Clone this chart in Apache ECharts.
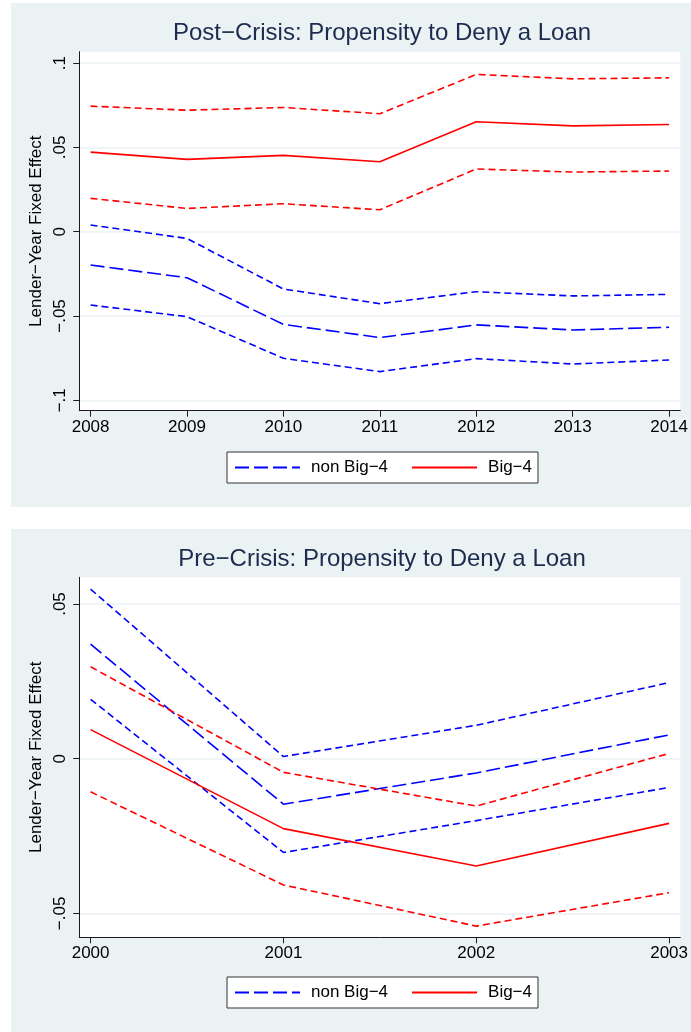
<!DOCTYPE html>
<html>
<head>
<meta charset="utf-8">
<title>Lender-Year Fixed Effects: Propensity to Deny a Loan</title>
<script src="https://cdn.jsdelivr.net/npm/echarts@6/dist/echarts.min.js"></script>
<style>
  html, body { margin: 0; padding: 0; background: #ffffff; }
  #chart { width: 691px; height: 1032px; }
</style>
</head>
<body>
<div id="chart"></div>
<script>
// ---- Post-crisis panel (2008-2014) ----
const postYears = [2008, 2009, 2010, 2011, 2012, 2013, 2014];
const postBig4 = [0.0472, 0.0429, 0.0453, 0.0415, 0.0652, 0.0628, 0.0636];
const postBig4Hi = [0.0745, 0.0721, 0.0737, 0.0700, 0.0933, 0.0907, 0.0913];
const postBig4Lo = [0.0198, 0.0138, 0.0166, 0.0130, 0.0372, 0.0354, 0.0360];
const postNon = [-0.0198, -0.0273, -0.0550, -0.0628, -0.0553, -0.0583, -0.0567];
const postNonHi = [0.0040, -0.0040, -0.0340, -0.0427, -0.0356, -0.0381, -0.0372];
const postNonLo = [-0.0435, -0.0504, -0.0751, -0.0830, -0.0753, -0.0785, -0.0761];
const postYTicks = [-0.1, -0.05, 0, 0.05, 0.1];

// ---- Pre-crisis panel (2000-2003) ----
const preYears = [2000, 2001, 2002, 2003];
const preNonHi = [0.0548, 0.0007, 0.0108, 0.0246];
const preNon = [0.0370, -0.0147, -0.0046, 0.0077];
const preNonLo = [0.0192, -0.0303, -0.0200, -0.0093];
const preBig4Hi = [0.0297, -0.0044, -0.0153, 0.0017];
const preBig4 = [0.0094, -0.0226, -0.0347, -0.0209];
const preBig4Lo = [-0.0107, -0.0408, -0.0541, -0.0433];
const preYTicks = [-0.05, 0, 0.05];

const titles = ['Post\u2212Crisis: Propensity to Deny a Loan', 'Pre\u2212Crisis: Propensity to Deny a Loan'];
const yTitle = 'Lender\u2212Year Fixed Effect';
const NON = 'non Big\u22124';
const BIG = 'Big\u22124';

const FONT = '"Liberation Sans", Arial, Helvetica, sans-serif';
const BLUE = '#0000ff';
const RED = '#ff0000';
const PANEL_BG = '#eaf2f3';
const AXIS = '#1a1a1a';

function pairs(xs, ys) { return xs.map((x, i) => [x, ys[i]]); }

// Stata-style numbers: no leading zero, true minus sign
function stataNum(v) {
  if (Math.abs(v) < 1e-12) return '0';
  const s = String(Math.abs(+v.toFixed(4))).replace(/^0/, '');
  return (v < 0 ? '\u2212' : '') + s;
}

function line(name, xs, ys, color, dash, idx) {
  return {
    type: 'line', name: name, data: pairs(xs, ys),
    xAxisIndex: idx, yAxisIndex: idx,
    symbol: 'none', showSymbol: false, clip: false,
    lineStyle: { color: color, width: 1.6, type: dash },
    itemStyle: { color: color },
    z: 3
  };
}

const MAIN_DASH = [14, 5];
const CI_DASH = [7, 4];

function xAxis(idx, min, max, years) {
  return {
    type: 'value', gridIndex: idx, min: min, max: max,
    axisLine: { show: true, onZero: false, lineStyle: { color: AXIS, width: 1 } },
    axisTick: { show: true, length: 6, customValues: years, lineStyle: { color: AXIS, width: 1 } },
    axisLabel: { customValues: years, margin: 8, color: '#000', fontFamily: FONT, fontSize: 17,
                 formatter: v => String(Math.round(v)) },
    splitLine: { show: false }
  };
}

function yAxis(idx, min, max, ticks) {
  return {
    type: 'value', gridIndex: idx, min: min, max: max,
    name: yTitle, nameLocation: 'middle', nameRotate: 90, nameGap: 34,
    nameTextStyle: { color: '#000', fontFamily: FONT, fontSize: 17 },
    axisLine: { show: true, onZero: false, lineStyle: { color: AXIS, width: 1 } },
    axisTick: { show: true, length: 6, customValues: ticks, lineStyle: { color: AXIS, width: 1 } },
    axisLabel: { customValues: ticks, rotate: 90, margin: 10, color: '#000', fontFamily: FONT, fontSize: 17,
                 formatter: v => stataNum(v) },
    splitLine: { show: true, lineStyle: { color: PANEL_BG, width: 1.5 } }
  };
}

function legend(top) {
  return {
    data: [NON, BIG], left: 227, top: top, orient: 'horizontal',
    itemWidth: 65, itemHeight: 14, itemGap: 23,
    backgroundColor: '#ffffff', borderColor: '#333333', borderWidth: 1,
    padding: [7, 6, 7, 7], borderRadius: 0,
    itemStyle: { opacity: 0, borderWidth: 0 },
    textStyle: { color: '#000', fontFamily: FONT, fontSize: 17, padding: [0, 0, 0, 6] },
    selectedMode: false
  };
}

const chart = echarts.init(document.getElementById('chart'), null, { renderer: 'canvas' });

chart.setOption({
  animation: false,
  backgroundColor: '#ffffff',
  graphic: [
    { type: 'rect', z: -10, silent: true, shape: { x: 11, y: 3, width: 680, height: 504 }, style: { fill: PANEL_BG } },
    { type: 'rect', z: -10, silent: true, shape: { x: 11, y: 529, width: 680, height: 503 }, style: { fill: PANEL_BG } },
    { type: 'text', z: 10, silent: true, x: 382, y: 33,
      style: { text: titles[0], textAlign: 'center', textVerticalAlign: 'middle', fill: '#1c2b4e', font: '24px ' + FONT } },
    { type: 'text', z: 10, silent: true, x: 382, y: 559,
      style: { text: titles[1], textAlign: 'center', textVerticalAlign: 'middle', fill: '#1c2b4e', font: '24px ' + FONT } }
  ],
  grid: [
    { left: 79.3, top: 51.7, width: 606, height: 359, show: true, backgroundColor: '#ffffff', borderWidth: 0, containLabel: false },
    { left: 79.3, top: 577.3, width: 606, height: 360, show: true, backgroundColor: '#ffffff', borderWidth: 0, containLabel: false }
  ],
  xAxis: [
    xAxis(0, 2007.883, 2014.116, postYears),
    xAxis(1, 1999.9414, 2003.0581, preYears)
  ],
  yAxis: [
    yAxis(0, -0.1062, 0.1068, postYTicks),
    yAxis(1, -0.05772, 0.05863, preYTicks)
  ],
  legend: [legend(452), legend(977)],
  series: [
    line(NON + ' upper', postYears, postNonHi, BLUE, CI_DASH, 0),
    line(NON, postYears, postNon, BLUE, MAIN_DASH, 0),
    line(NON + ' lower', postYears, postNonLo, BLUE, CI_DASH, 0),
    line(BIG + ' upper', postYears, postBig4Hi, RED, CI_DASH, 0),
    line(BIG, postYears, postBig4, RED, 'solid', 0),
    line(BIG + ' lower', postYears, postBig4Lo, RED, CI_DASH, 0),

    line(NON + ' upper', preYears, preNonHi, BLUE, CI_DASH, 1),
    line(NON, preYears, preNon, BLUE, MAIN_DASH, 1),
    line(NON + ' lower', preYears, preNonLo, BLUE, CI_DASH, 1),
    line(BIG + ' upper', preYears, preBig4Hi, RED, CI_DASH, 1),
    line(BIG, preYears, preBig4, RED, 'solid', 1),
    line(BIG + ' lower', preYears, preBig4Lo, RED, CI_DASH, 1)
  ]
});
</script>
</body>
</html>
